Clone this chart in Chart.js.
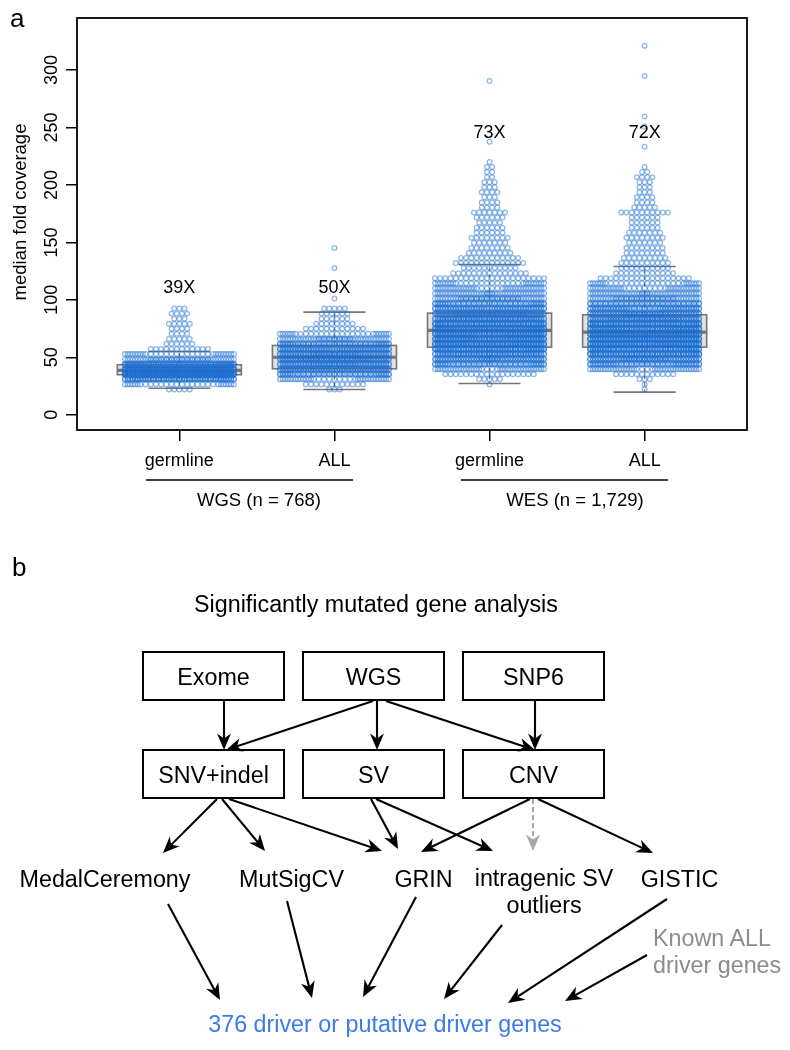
<!DOCTYPE html>
<html><head><meta charset="utf-8">
<script src="https://cdn.jsdelivr.net/npm/chart.js@4.4.1/dist/chart.umd.min.js"></script>
<style>
html,body{margin:0;padding:0;background:#fff;}
#wrap{position:relative;width:790px;height:1050px;overflow:hidden;background:#fff;}
#c{position:absolute;left:0;top:0;width:790px;height:530px;}
#flow{position:absolute;left:0;top:0;}
</style></head><body>
<div id="wrap">
<canvas id="c" width="790" height="530"></canvas>
<svg id="flow" width="790" height="1050" xmlns="http://www.w3.org/2000/svg"></svg>
</div>
<script>
// ---------------- DATA (panel a) ----------------
const categories = ['germline', 'ALL', 'germline', 'ALL'];
const coverageLabels = ['39X', '50X', '73X', '72X'];
const coverageLabelY = [105.6, 105.6, 240.5, 240.5];
const groupNames = ['WGS (n = 768)', 'WES (n = 1,729)'];
const groupLineFrom = [0.785, 2.816];
const groupLineTo = [2.12, 4.15];
const groupLabelX = [1.513, 3.551];
const yTicks = [0, 50, 100, 150, 200, 250, 300];
const yTitle = 'median fold coverage';

// boxplot statistics
const boxQ1 = [34.8, 40.0, 58.8, 58.8];
const boxMedian = [38.6, 50.0, 73.4, 71.9];
const boxQ3 = [43.5, 60.3, 88.4, 87.0];
const whiskerLow = [23.0, 22.0, 27.2, 19.7];
const whiskerHigh = [55.0, 89.3, 130.8, 129.0];

// beeswarm rows: value of row k = k * rowStep ; counts of points per row
const rowStep = 4.4;
const firstRow = [5, 5, 6, 5];
const wgsGermlineRows = [5, 28, 105, 195, 189, 115, 55, 30, 12, 6, 5, 4, 4, 5, 3, 4, 3];
const wgsAllRows = [3, 12, 35, 70, 85, 95, 100, 95, 85, 70, 50, 28, 12, 8, 6, 6, 5];
const wesGermlineRows = [1, 5, 18, 40, 70, 90, 105, 115, 120, 123, 123, 115, 110, 105, 100, 85, 70, 55, 45, 38, 30, 22, 15, 11,
  14, 12, 9, 8, 7, 8, 6, 6, 5, 6, 7, 4, 4, 3, 4, 3, 3, 2, 2, 2, 1];
const wesAllRows = [1, 1, 3, 12, 40, 75, 95, 110, 115, 125, 130, 130, 120, 110, 100, 95, 80, 65, 55, 45, 35, 28, 18, 12, 10,
  10, 9, 8, 8, 7, 8, 7, 6, 6, 6, 10, 5, 4, 4, 3, 3, 3, 4, 2, 1];
// single outlying points (row indices)
const extraRows = [[], [23, 29, 33], [54, 66], [53, 57, 59, 67, 73]];

const FONT = '"Liberation Sans", Arial, Helvetica, sans-serif';
const swarmDx = 0.0335;   // horizontal spacing between swarm points (x units)
const corral = 0.72;      // corral width (x units), wrap

function swarm(gi, counts, first, extras) {
  const pts = [];
  const rows = counts.map((c, i) => [first + i, c]).concat(extras.map(r => [r, 1]));
  rows.forEach(([r, n]) => {
    for (let i = 0; i < n; i++) {
      let off = (i - (n - 1) / 2) * swarmDx;
      off = (((off + corral / 2) % corral) + corral) % corral - corral / 2;
      pts.push({ x: gi + 1 + off, y: r * rowStep });
    }
  });
  return pts;
}
const allRows = [wgsGermlineRows, wgsAllRows, wesGermlineRows, wesAllRows];
const datasets = allRows.map((rows, gi) => ({
  data: swarm(gi, rows, firstRow[gi], extraRows[gi]),
  pointRadius: 2.35,
  pointBorderWidth: 1.25,
  pointBackgroundColor: 'rgba(0,0,0,0)',
  pointBorderColor: 'rgba(30,112,212,0.5)',
  showLine: false
}));

const boxPlugin = {
  id: 'boxes',
  beforeDatasetsDraw(chart) {
    const ctx = chart.ctx, xs = chart.scales.x, ys = chart.scales.y;
    ctx.save();
    for (let i = 0; i < 4; i++) {
      const cx = xs.getPixelForValue(i + 1);
      const hw = xs.getPixelForValue(i + 1.4) - cx;
      const cw = hw / 2;
      const yq1 = ys.getPixelForValue(boxQ1[i]), yq3 = ys.getPixelForValue(boxQ3[i]);
      const ym = ys.getPixelForValue(boxMedian[i]);
      const ylo = ys.getPixelForValue(whiskerLow[i]), yhi = ys.getPixelForValue(whiskerHigh[i]);
      ctx.strokeStyle = '#777';
      ctx.lineWidth = 1.2;
      ctx.setLineDash([4, 3]);
      ctx.beginPath();
      ctx.moveTo(cx, yq3); ctx.lineTo(cx, yhi);
      ctx.moveTo(cx, yq1); ctx.lineTo(cx, ylo);
      ctx.stroke();
      ctx.setLineDash([]);
      ctx.lineWidth = 1.6;
      ctx.beginPath();
      ctx.moveTo(cx - cw, yhi); ctx.lineTo(cx + cw, yhi);
      ctx.moveTo(cx - cw, ylo); ctx.lineTo(cx + cw, ylo);
      ctx.stroke();
      ctx.fillStyle = '#e2e2e2';
      ctx.fillRect(cx - hw, yq3, 2 * hw, yq1 - yq3);
      ctx.strokeRect(cx - hw, yq3, 2 * hw, yq1 - yq3);
      ctx.lineWidth = 3.2;
      ctx.beginPath();
      ctx.moveTo(cx - hw, ym); ctx.lineTo(cx + hw, ym);
      ctx.stroke();
    }
    ctx.restore();
  },
  afterDraw(chart) {
    const ctx = chart.ctx, xs = chart.scales.x, ys = chart.scales.y, a = chart.chartArea;
    ctx.save();
    ctx.strokeStyle = '#000';
    ctx.lineWidth = 1.8;
    ctx.strokeRect(a.left, a.top, a.right - a.left, a.bottom - a.top);
    ctx.fillStyle = '#000';
    ctx.font = '18px ' + FONT;
    ctx.textBaseline = 'alphabetic';
    ctx.textAlign = 'center';
    yTicks.forEach(v => {
      const py = ys.getPixelForValue(v);
      ctx.save(); ctx.translate(57, py); ctx.rotate(-Math.PI / 2);
      ctx.fillText(String(v), 0, 0); ctx.restore();
    });
    ctx.save(); ctx.translate(26, 212); ctx.rotate(-Math.PI / 2);
    ctx.font = '18.5px ' + FONT;
    ctx.fillText(yTitle, 0, 0); ctx.restore();
    categories.forEach((c, i) => {
      ctx.fillText(c, xs.getPixelForValue(i + 1), 466);
    });
    coverageLabels.forEach((t, i) => {
      ctx.fillText(t, xs.getPixelForValue(i + 1), ys.getPixelForValue(coverageLabelY[i]));
    });
    ctx.lineWidth = 1.5;
    groupNames.forEach((g, i) => {
      ctx.beginPath();
      ctx.moveTo(xs.getPixelForValue(groupLineFrom[i]), 480);
      ctx.lineTo(xs.getPixelForValue(groupLineTo[i]), 480);
      ctx.stroke();
      ctx.font = '18.5px ' + FONT;
      ctx.fillText(g, xs.getPixelForValue(groupLabelX[i]), 506);
    });
    ctx.textAlign = 'left';
    ctx.font = '26px ' + FONT;
    ctx.fillText('a', 10, 27);
    ctx.restore();
  }
};

new Chart(document.getElementById('c'), {
  type: 'scatter',
  data: { datasets },
  options: {
    responsive: false,
    animation: false,
    devicePixelRatio: 1,
    events: [],
    layout: { padding: { top: 18, right: 43, left: 0, bottom: 0 } },
    plugins: { legend: { display: false }, tooltip: { enabled: false } },
    scales: {
      x: {
        type: 'linear', min: 0.34, max: 4.66,
        afterFit: s => { s.height = 100; },
        afterBuildTicks: s => { s.ticks = [1, 2, 3, 4].map(v => ({ value: v })); },
        ticks: { display: false },
        grid: { drawOnChartArea: false, drawTicks: true, tickLength: 11, color: '#000', lineWidth: 1.5 },
        border: { display: false }
      },
      y: {
        type: 'linear', min: -13.3, max: 345.3,
        afterFit: s => { s.width = 77; },
        afterBuildTicks: s => { s.ticks = yTicks.map(v => ({ value: v })); },
        ticks: { display: false },
        grid: { drawOnChartArea: false, drawTicks: true, tickLength: 11, color: '#000', lineWidth: 1.5 },
        border: { display: false }
      }
    }
  },
  plugins: [boxPlugin]
});

// ---------------- panel b (flow chart) ----------------
const svg = document.getElementById('flow');
const NS = 'http://www.w3.org/2000/svg';
function el(tag, attrs, text) {
  const e = document.createElementNS(NS, tag);
  for (const k in attrs) e.setAttribute(k, attrs[k]);
  if (text !== undefined) e.textContent = text;
  svg.appendChild(e);
  return e;
}
function txt(x, y, s, opts = {}) {
  el('text', { x, y, 'font-family': FONT, 'font-size': opts.size || 23.3, fill: opts.color || '#000',
    'text-anchor': opts.anchor || 'middle' }, s);
}
function arrow(x1, y1, x2, y2, color = '#000', dashed = false) {
  const dx = x2 - x1, dy = y2 - y1, len = Math.hypot(dx, dy), ux = dx / len, uy = dy / len, nx = -uy, ny = ux;
  const L = 16.5, W = 7, notch = 5;
  const bx = x2 - ux * L, by = y2 - uy * L;
  const mx = x2 - ux * (L - notch), my = y2 - uy * (L - notch);
  const la = { x1, y1, x2: mx, y2: my, stroke: color, 'stroke-width': 2.1 };
  if (dashed) la['stroke-dasharray'] = '5 3';
  el('line', la);
  el('polygon', { points: `${x2},${y2} ${bx + nx * W},${by + ny * W} ${mx},${my} ${bx - nx * W},${by - ny * W}`, fill: color });
}
txt(12, 576, 'b', { size: 26, anchor: 'start' });
txt(376, 612, 'Significantly mutated gene analysis');
const boxes = [
  ['Exome', 143, 652], ['WGS', 303, 652], ['SNP6', 463, 652],
  ['SNV+indel', 143, 750], ['SV', 303, 750], ['CNV', 463, 750]
];
boxes.forEach(([t, x, y]) => {
  el('rect', { x, y, width: 141, height: 48, fill: 'none', stroke: '#000', 'stroke-width': 2 });
  txt(x + 70.5, y + 32.5, t);
});
arrow(224, 701, 224, 750);
arrow(373, 701, 226, 750);
arrow(377, 701, 377, 750);
arrow(386, 701, 535, 750);
arrow(535, 701, 535, 750);

arrow(217, 799, 163, 853);
arrow(222, 799, 265, 851);
arrow(229, 799, 382, 851);
arrow(371, 799, 398, 849);
arrow(376, 799, 493, 851);
arrow(530, 799, 421, 852);
arrow(533, 799, 533, 851, '#a8a8a8', true);
arrow(538, 799, 653, 853);

txt(105, 887, 'MedalCeremony');
txt(291.5, 887, 'MutSigCV');
txt(423.5, 887, 'GRIN');
txt(544, 886, 'intragenic SV');
txt(544, 913, 'outliers');
txt(679.5, 887, 'GISTIC');
txt(653, 946, 'Known ALL', { anchor: 'start', color: '#8c8c8c' });
txt(653, 973, 'driver genes', { anchor: 'start', color: '#8c8c8c' });

arrow(168, 904, 220, 1000);
arrow(287, 901, 312, 998);
arrow(416, 897, 363, 997);
arrow(502, 925, 444, 999);
arrow(667, 899, 508, 1003);
arrow(647, 955, 565, 1001);

txt(385, 1032, '376 driver or putative driver genes', { color: '#3b7be6' });
</script>
</body></html>
